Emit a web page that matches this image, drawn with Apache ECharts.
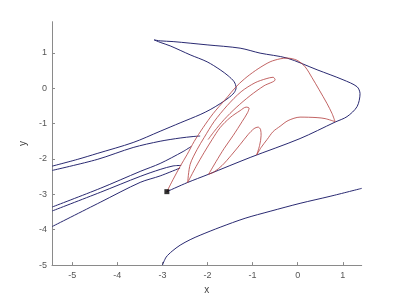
<!DOCTYPE html>
<html>
<head>
<meta charset="utf-8">
<script src="https://cdn.jsdelivr.net/npm/echarts@6/dist/echarts.min.js"></script>
<style>html,body{margin:0;padding:0;background:#fff}#c{width:400px;height:300px}</style>
</head>
<body>
<div id="c"></div>
<script>
// tick labels
const xTicks = [-5, -4, -3, -2, -1, 0, 1];
const yTicks = [-5, -4, -3, -2, -1, 0, 1];

// blue curve part 1: left edge -> curl -> sharp tip
const blueCurl = [
  [-5.446,-2.203],[-4.891,-2.014],[-4.448,-1.845],[-3.650,-1.535],[-3.051,-1.217],
  [-2.608,-0.980],[-2.164,-0.746],[-1.942,-0.606],[-1.720,-0.437],[-1.543,-0.282],
  [-1.410,-0.127],[-1.366,0.014],[-1.410,0.183],[-1.543,0.352],[-1.720,0.521],
  [-2.009,0.746],[-2.386,0.944],[-2.829,1.197],[-3.051,1.296],[-3.184,1.366]
];
// blue curve part 2: tip -> top -> right tip -> straight edge -> marker
const blueTop = [
  [-3.184,1.366],[-3.051,1.338],[-2.763,1.318],[-2.009,1.225],[-1.277,1.132],[-0.834,0.992],
  [-0.235,0.851],[0.430,0.521],[1.006,0.239],[1.317,0.042],[1.383,-0.155],
  [1.317,-0.521],[1.095,-0.803],[0.829,-0.958],[0.053,-1.423],[-1.055,-1.958],
  [-1.987,-2.437],[-2.452,-2.670],[-2.902,-2.924]
];
const blueB = [
  [-5.446,-2.324],[-4.448,-2.014],[-3.650,-1.676],[-3.051,-1.499],[-2.608,-1.408],
  [-2.319,-1.366],[-2.164,-1.352]
];
const blueC = [
  [-5.446,-3.358],[-4.381,-2.831],[-3.494,-2.352],[-3.051,-2.127],[-2.541,-1.789],[-2.364,-1.648]
];
const blueD = [
  [-5.446,-3.470],[-4.381,-2.944],[-3.494,-2.493],[-3.051,-2.296],[-2.763,-2.197],[-2.585,-2.183]
];
const blueE = [
  [-5.446,-3.910],[-4.381,-3.225],[-3.494,-2.662],[-3.051,-2.479],[-2.608,-2.254]
];
const blueLow = [
  [-3.000,-5.000],[-2.918,-4.775],[-2.785,-4.606],[-2.608,-4.437],[-2.386,-4.282],
  [-2.164,-4.155],[-1.720,-3.930],[-1.166,-3.676],[-0.612,-3.479],[0.053,-3.254],
  [0.718,-3.056],[1.421,-2.831]
];
// red folded curve, in pieces between its corners
const redOuter = [
  [-2.902,-2.924],[-2.763,-2.577],[-2.608,-2.211],[-2.452,-1.873],[-2.297,-1.507],
  [-2.098,-1.113],[-1.876,-0.718],[-1.610,-0.324],[-1.344,0.070],[-1.122,0.324],
  [-0.878,0.549],[-0.612,0.746],[-0.390,0.831],[-0.235,0.851],[-0.013,0.789],
  [0.164,0.606],[0.319,0.296],[0.475,-0.042],[0.652,-0.437],[0.763,-0.718],
  [0.829,-0.944]
];
const redReturn = [
  [0.829,-0.944],[0.608,-0.859],[0.430,-0.831],[0.053,-0.817],[-0.213,-0.915],
  [-0.390,-1.076],[-0.545,-1.225],[-0.679,-1.451],[-0.812,-1.676],[-0.911,-1.888]
];
const redFingerD = [
  [-0.911,-1.888],[-0.845,-1.620],[-0.812,-1.338],[-0.823,-1.169],[-0.878,-1.099],[-0.967,-1.141],
  [-1.100,-1.310],[-1.277,-1.592],[-1.477,-1.901],[-1.676,-2.183],[-1.854,-2.366],
  [-1.975,-2.431]
];
const redFingerC = [
  [-1.975,-2.431],[-1.809,-2.070],[-1.632,-1.704],[-1.432,-1.338],[-1.233,-0.944],[-1.111,-0.690],
  [-1.078,-0.563],[-1.144,-0.535],[-1.277,-0.634],[-1.499,-0.831],[-1.720,-1.113],
  [-1.898,-1.451],[-2.075,-1.817],[-2.253,-2.211],[-2.440,-2.664]
];
const redFingerB = [
  [-2.440,-2.664],[-2.386,-2.155],[-2.231,-1.732],[-2.075,-1.394],[-1.854,-0.944],[-1.565,-0.493],
  [-1.255,-0.099],[-0.945,0.155],[-0.701,0.268],[-0.545,0.310],[-0.501,0.239],
  [-0.745,0.070],[-1.055,-0.211],[-1.366,-0.549],[-1.632,-0.887],[-1.854,-1.225],
  [-1.987,-1.451]
];
const markerPt = [[-2.902,-2.924]];

const BLUE = '#2a2a72';
const RED = '#b33c3c';
function blue(d){return {type:'line',data:d,showSymbol:false,silent:true,smooth:0.3,lineStyle:{color:BLUE,width:1},z:2};}
function red(d){return {type:'line',data:d,showSymbol:false,silent:true,smooth:0.3,lineStyle:{color:RED,width:0.8},z:3};}

const axisCommon = {
  axisLine:{onZero:false,lineStyle:{color:'#8a8a8a',width:1}},
  axisTick:{inside:true,length:3,lineStyle:{color:'#8a8a8a'}},
  splitLine:{show:false},
  nameTextStyle:{color:'#444',fontSize:10,fontFamily:'Liberation Sans'}
};
const chart = echarts.init(document.getElementById('c'), null, {renderer:'canvas'});
chart.setOption({
  animation:false,
  backgroundColor:'#fff',
  grid:{left:52,right:38.3,top:21.7,bottom:34},
  xAxis:Object.assign({}, axisCommon, {
    type:'value',min:-5.45,max:1.42,name:'x',nameLocation:'middle',nameGap:17,
    axisTick:Object.assign({}, axisCommon.axisTick, {customValues:xTicks}),
    axisLabel:{customValues:xTicks,color:'#555',fontSize:9,fontFamily:'Liberation Sans',margin:6}
  }),
  yAxis:Object.assign({}, axisCommon, {
    type:'value',min:-5,max:1.88,name:'y',nameLocation:'middle',nameGap:18,nameRotate:90,
    axisTick:Object.assign({}, axisCommon.axisTick, {customValues:yTicks}),
    axisLabel:{customValues:yTicks,color:'#555',fontSize:9,fontFamily:'Liberation Sans',margin:5}
  }),
  series:[
    blue(blueCurl), blue(blueTop), blue(blueB), blue(blueC), blue(blueD), blue(blueE), blue(blueLow),
    red(redOuter), red(redReturn), red(redFingerD), red(redFingerC), red(redFingerB),
    {type:'scatter',data:markerPt,symbol:'rect',symbolSize:5,itemStyle:{color:'#000'},z:5}
  ]
});
</script>
</body>
</html>
